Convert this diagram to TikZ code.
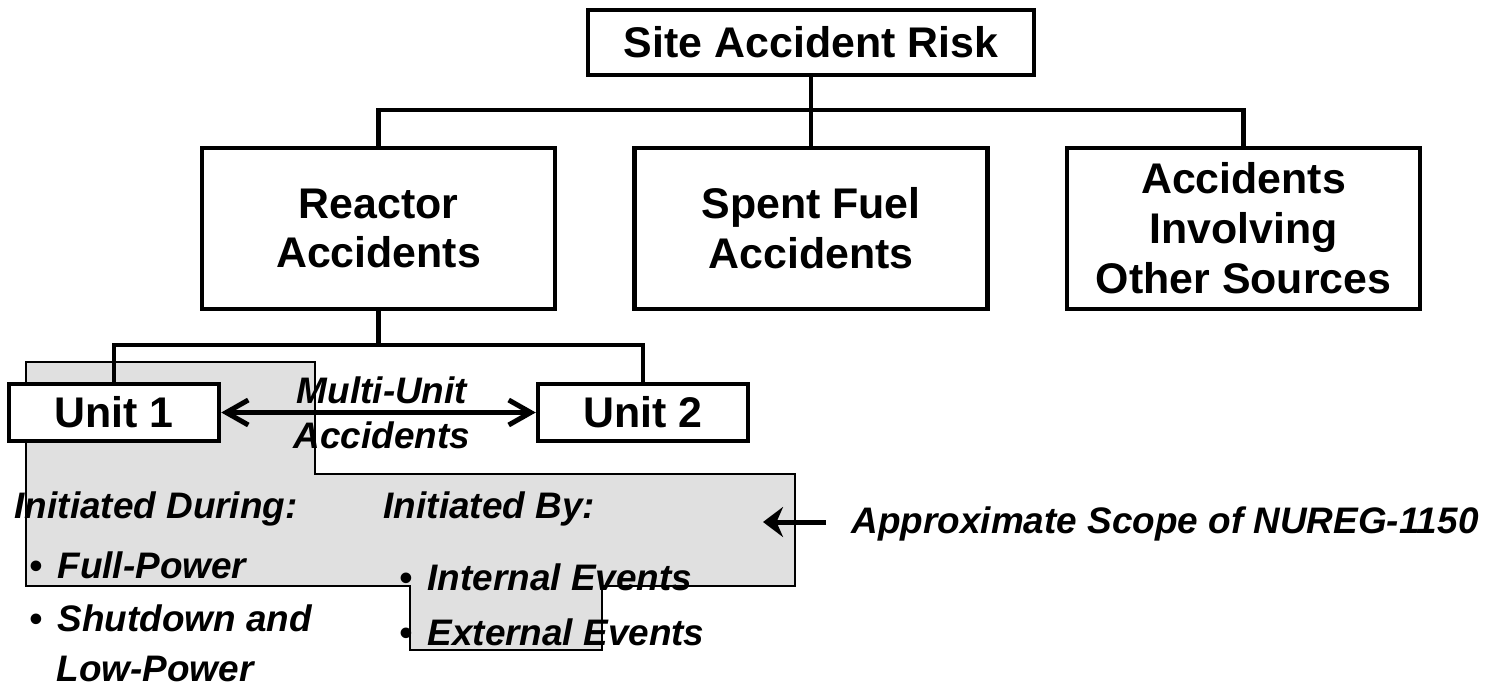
\documentclass[tikz,border=0pt]{standalone}
\usepackage{fontspec}
\setmainfont{Liberation Sans}
\usetikzlibrary{arrows.meta}
\definecolor{scopegrey}{RGB}{224,224,224}
\tikzset{
  box/.style={draw,line width=0.45mm,fill=white,align=center,inner sep=0pt,
    font=\bfseries\fontsize{12.2}{14.2}\selectfont},
  note/.style={inner sep=0pt,font=\bfseries\itshape\fontsize{10.5}{11.7}\selectfont},
  link/.style={line width=0.45mm},
  pointer/.style={line width=0.5mm},
  scopearea/.style={fill=scopegrey,draw=black,line width=0.3pt}
}

\begin{document}
\begin{tikzpicture}[x=0.1mm,y=-0.1mm]
\useasboundingbox (0,0) rectangle (1492,684);

\draw[scopearea] (26,362) -- (315,362) -- (315,474) -- (795,474) -- (795,586) -- (602,586)
  -- (602,650) -- (410,650) -- (410,586) -- (26,586) -- cycle;

\node[box,minimum width=44.6mm,minimum height=6.5mm] (risk) at (811,42.5) {Site Accident Risk};
\node[box,minimum width=35.3mm,minimum height=16.1mm] (reactor) at (378.5,228.5) {Reactor\\Accidents};
\node[box,minimum width=35.3mm,minimum height=16.1mm] (spent) at (811,228.5) {Spent Fuel\\Accidents};
\node[box,minimum width=35.3mm,minimum height=16.1mm] (other) at (1243.5,228.5) {Accidents\\Involving\\Other Sources};
\node[box,minimum width=21mm,minimum height=5.7mm] (unit1) at (114,412.5) {Unit 1};
\node[box,minimum width=21mm,minimum height=5.7mm] (unit2) at (643,412.5) {Unit 2};

\coordinate (bar) at (811,110);
\coordinate (ubar) at (378.5,345);
\draw[link] (risk.south) -- (spent.north);
\draw[link] (reactor.north) |- (bar) -| (other.north);
\draw[link] (reactor.south) -- (ubar);
\draw[link] (unit1.north) |- (ubar) -| (unit2.north);

\draw[pointer,{Straight Barb[length=2.2mm,width=2.5mm]}-{Straight Barb[length=2.2mm,width=2.5mm]}] (unit1) -- (unit2);
\node[note,anchor=base] (multi) at (382,403) {Multi-Unit};
\node[note,anchor=base] (multiacc) at (382,448) {Accidents};

\node[note,anchor=base west] (during) at (14,518) {Initiated During:};
\node[note,anchor=base west] (full) at (29,578) {•\hspace{1.5mm}Full-Power};
\node[note,anchor=base west] (shut) at (29,631) {•\hspace{1.5mm}Shutdown and};
\node[note,anchor=base west] (low) at (56,681) {Low-Power};

\node[note,anchor=base west] (by) at (383,518) {Initiated By:};
\node[note,anchor=base west] (internal) at (399,590) {•\hspace{1.5mm}Internal Events};
\node[note,anchor=base west] (external) at (399,645) {•\hspace{1.5mm}External Events};

\node[note,anchor=base west] (scope) at (851,533) {Approximate Scope of NUREG-1150};
\coordinate (scopetail) at (826,522);
\coordinate (scopetip) at (763,522);
\draw[pointer,-{Stealth[length=2mm,width=3mm]}] (scopetail) -- (scopetip);
\end{tikzpicture}
\end{document}
